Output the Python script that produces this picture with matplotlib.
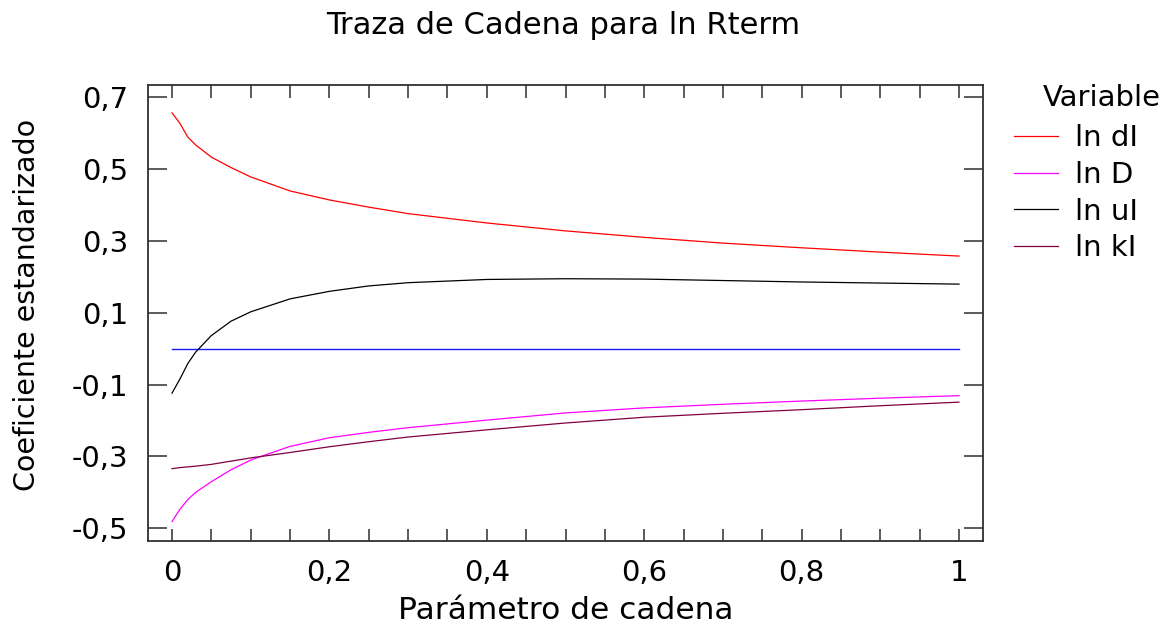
import numpy as np
import matplotlib
matplotlib.use("Agg")
import matplotlib.pyplot as plt
from matplotlib.ticker import FuncFormatter, MultipleLocator

plt.rcParams['font.family'] = ['DejaVu Sans']

# parámetro de cadena (ridge)
t = np.array([0, 0.01, 0.02, 0.03, 0.05, 0.075, 0.1, 0.15, 0.2, 0.25,
              0.3, 0.4, 0.5, 0.6, 0.7, 0.8, 0.9, 1.0])

ln_dI = np.array([0.655, 0.626, 0.588, 0.566, 0.532, 0.503, 0.477, 0.438, 0.413, 0.393,
                  0.375, 0.349, 0.327, 0.309, 0.293, 0.280, 0.268, 0.257])
ln_D = np.array([-0.481, -0.447, -0.420, -0.400, -0.370, -0.337, -0.310, -0.272, -0.248, -0.233,
                 -0.220, -0.199, -0.179, -0.165, -0.155, -0.146, -0.138, -0.131])
ln_uI = np.array([-0.124, -0.085, -0.042, -0.010, 0.036, 0.076, 0.102, 0.138, 0.159, 0.174,
                  0.183, 0.192, 0.194, 0.193, 0.189, 0.185, 0.182, 0.179])
ln_kI = np.array([-0.334, -0.331, -0.329, -0.327, -0.322, -0.313, -0.304, -0.289, -0.273, -0.259,
                  -0.246, -0.226, -0.207, -0.191, -0.180, -0.170, -0.159, -0.149])

nombres = ['ln dI', 'ln D', 'ln uI', 'ln kI']
colores = ['#ff0000', '#ff00ff', '#000000', '#800040']

fig = plt.figure(figsize=(11.73, 6.26), dpi=100)
ax = fig.add_axes([148/1173, 1 - 541/626, 835/1173, 456/626])

ax.plot([t[0], t[-1]], [0, 0], color='#1a1aff', lw=1.0)
for y, nom, col in zip([ln_dI, ln_D, ln_uI, ln_kI], nombres, colores):
    ax.plot(t, y, color=col, lw=0.9, label=nom)

ax.set_xlim(-0.0305, 1.0305)
ax.set_ylim(-0.535, 0.7325)
ax.xaxis.set_major_locator(MultipleLocator(0.2))
ax.xaxis.set_minor_locator(MultipleLocator(0.05))
ax.set_yticks([-0.5, -0.3, -0.1, 0.1, 0.3, 0.5, 0.7])


def fmt(v, pos):
    if abs(v - round(v)) < 1e-9:
        return str(int(round(v)))
    return f"{v:.1f}".replace('.', ',')


ax.xaxis.set_major_formatter(FuncFormatter(fmt))
ax.yaxis.set_major_formatter(FuncFormatter(fmt))

ax.tick_params(axis='x', which='both', direction='in', top=True, length=9,
               width=1.2, color='#404040', labelsize=21, pad=13)
ax.tick_params(axis='y', direction='in', right=True, length=14,
               width=1.2, color='#404040', labelsize=21, pad=14)
for s in ax.spines.values():
    s.set_color('#303030')
    s.set_linewidth(1.3)

ax.set_xlabel('Parámetro de cadena', fontsize=22.5)
ax.xaxis.label.set_va('baseline')
ax.xaxis.set_label_coords(0.5, (541 - 619) / 456)
ax.set_ylabel('Coeficiente estandarizado', fontsize=20.5)
ax.yaxis.set_label_coords((41 - 148) / 835, 0.5175)

fig.text(563/1173, 1 - 34/626, 'Traza de Cadena para ln Rterm', fontsize=22,
         ha='center', va='baseline')

fig.text(1102/1173, 1 - 98/626, 'Variable', fontsize=21, ha='center', va='center')
ax.legend(loc='upper left', bbox_to_anchor=(1014/1173, 1 - 124/626),
          bbox_transform=fig.transFigure, frameon=False, fontsize=21,
          borderpad=0, borderaxespad=0, handlelength=1.5, handletextpad=0.6,
          labelspacing=0.3)

fig.savefig('out.png', dpi=100)
